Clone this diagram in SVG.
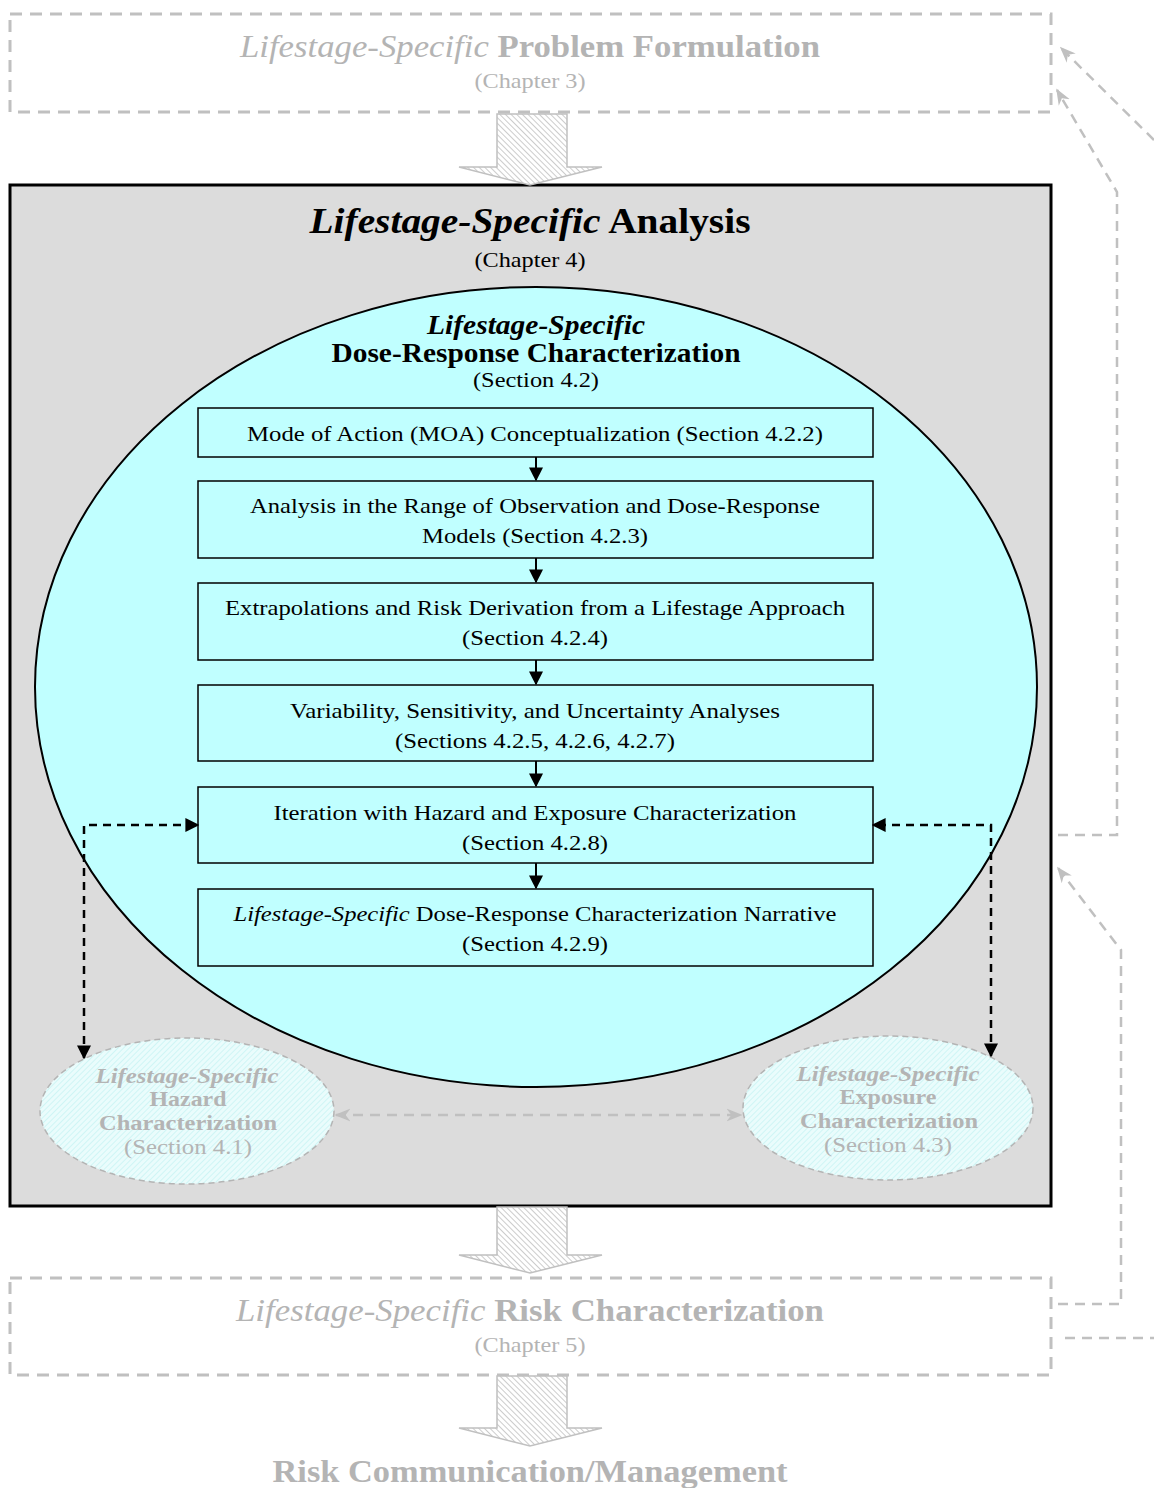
<svg xmlns="http://www.w3.org/2000/svg" width="1154" height="1488" viewBox="0 0 1154 1488">
<defs>
<style>
.t{font-family:"Liberation Serif","Times New Roman",serif;text-anchor:middle}
.g{fill:#b4b4b4}
.k{fill:#000}
.gd{fill:none;stroke:#c0c0c0;stroke-width:3;stroke-dasharray:12,8}
.gl{fill:none;stroke:#c0c0c0;stroke-width:2.5;stroke-dasharray:10,7}
.box{fill:none;stroke:#000;stroke-width:1.5}
.fl{stroke:#000;stroke-width:2;fill:none}
.bd{stroke:#000;stroke-width:2.5;fill:none;stroke-dasharray:8,6}
.big{fill:url(#hatch);stroke:#c0c0c0;stroke-width:1.5}
</style>
<pattern id="hatch" patternUnits="userSpaceOnUse" width="4" height="4" patternTransform="rotate(-45)">
<rect width="4" height="4" fill="#fff"/>
<line x1="0" y1="0" x2="0" y2="4" stroke="#aaaaaa" stroke-width="1.2"/>
</pattern>
<pattern id="chatch" patternUnits="userSpaceOnUse" width="4" height="4" patternTransform="rotate(45)">
<rect width="4" height="4" fill="#eafcfc"/>
<line x1="0" y1="0" x2="0" y2="4" stroke="#c0f2f2" stroke-width="1.3"/>
</pattern>
<marker id="akb" viewBox="0 0 10 10" refX="9" refY="5" markerWidth="14" markerHeight="14" orient="auto-start-reverse" markerUnits="userSpaceOnUse">
<path d="M0,0 L10,5 L0,10 z" fill="#000"/>
</marker>
<marker id="ag" viewBox="0 0 10 10" refX="9" refY="5" markerWidth="16" markerHeight="16" orient="auto-start-reverse" markerUnits="userSpaceOnUse">
<path d="M0,1 L10,5 L0,9 L3,5 z" fill="#c0c0c0"/>
</marker>
</defs>

<g id="problem-formulation">
<rect x="10" y="14" width="1041" height="98" class="gd"/>
<text class="t g" x="530" y="57" font-size="32" font-weight="bold" textLength="580" lengthAdjust="spacingAndGlyphs"><tspan font-style="italic" font-weight="normal">Lifestage-Specific</tspan> Problem Formulation</text>
<text class="t g" x="530" y="88" font-size="21" textLength="111" lengthAdjust="spacingAndGlyphs">(Chapter 3)</text>
</g>

<g id="analysis">
<rect x="10" y="185" width="1041" height="1021" fill="#dcdcdc" stroke="#000" stroke-width="3"/>
<text class="t k" x="530" y="233" font-size="36" font-weight="bold" textLength="441" lengthAdjust="spacingAndGlyphs"><tspan font-style="italic">Lifestage-Specific</tspan> Analysis</text>
<text class="t k" x="530" y="267" font-size="22" textLength="111" lengthAdjust="spacingAndGlyphs">(Chapter 4)</text>
</g>

<g id="dose-response">
<ellipse cx="536" cy="687" rx="501" ry="400" fill="#c0ffff" stroke="#000" stroke-width="2"/>
<text class="t k" x="536" y="334" font-size="28" font-weight="bold" font-style="italic" textLength="218" lengthAdjust="spacingAndGlyphs">Lifestage-Specific</text>
<text class="t k" x="536" y="362" font-size="28" font-weight="bold" textLength="409" lengthAdjust="spacingAndGlyphs">Dose-Response Characterization</text>
<text class="t k" x="536" y="387" font-size="22" textLength="126" lengthAdjust="spacingAndGlyphs">(Section 4.2)</text>
</g>

<g id="box-moa">
<rect x="198" y="408" width="675" height="49" class="box"/>
<text class="t k" x="535" y="441" font-size="22" textLength="576" lengthAdjust="spacingAndGlyphs">Mode of Action (MOA) Conceptualization (Section 4.2.2)</text>
</g>
<g id="box-range">
<rect x="198" y="481" width="675" height="77" class="box"/>
<text class="t k" x="535" y="513" font-size="22" textLength="570" lengthAdjust="spacingAndGlyphs">Analysis in the Range of Observation and Dose-Response</text>
<text class="t k" x="535" y="543" font-size="22" textLength="226" lengthAdjust="spacingAndGlyphs">Models (Section 4.2.3)</text>
</g>
<g id="box-extrap">
<rect x="198" y="583" width="675" height="77" class="box"/>
<text class="t k" x="535" y="615" font-size="22" textLength="620" lengthAdjust="spacingAndGlyphs">Extrapolations and Risk Derivation from a Lifestage Approach</text>
<text class="t k" x="535" y="645" font-size="22" textLength="146" lengthAdjust="spacingAndGlyphs">(Section 4.2.4)</text>
</g>
<g id="box-var">
<rect x="198" y="685" width="675" height="76" class="box"/>
<text class="t k" x="535" y="718" font-size="22" textLength="490" lengthAdjust="spacingAndGlyphs">Variability, Sensitivity, and Uncertainty Analyses</text>
<text class="t k" x="535" y="748" font-size="22" textLength="280" lengthAdjust="spacingAndGlyphs">(Sections 4.2.5, 4.2.6, 4.2.7)</text>
</g>
<g id="box-iter">
<rect x="198" y="787" width="675" height="76" class="box"/>
<text class="t k" x="535" y="820" font-size="22" textLength="523" lengthAdjust="spacingAndGlyphs">Iteration with Hazard and Exposure Characterization</text>
<text class="t k" x="535" y="850" font-size="22" textLength="146" lengthAdjust="spacingAndGlyphs">(Section 4.2.8)</text>
</g>
<g id="box-narr">
<rect x="198" y="889" width="675" height="77" class="box"/>
<text class="t k" x="535" y="921" font-size="22" textLength="603" lengthAdjust="spacingAndGlyphs"><tspan font-style="italic">Lifestage-Specific</tspan> Dose-Response Characterization Narrative</text>
<text class="t k" x="535" y="951" font-size="22" textLength="146" lengthAdjust="spacingAndGlyphs">(Section 4.2.9)</text>
</g>

<g id="hazard">
<ellipse cx="187" cy="1111" rx="147" ry="73" fill="url(#chatch)" stroke="#b4b4b4" stroke-width="1.5" stroke-dasharray="6,4"/>
<text class="t g" x="187" y="1083" font-size="22" font-weight="bold" font-style="italic" textLength="183" lengthAdjust="spacingAndGlyphs">Lifestage-Specific</text>
<text class="t g" x="188" y="1106" font-size="22" font-weight="bold" textLength="77" lengthAdjust="spacingAndGlyphs">Hazard</text>
<text class="t g" x="188" y="1130" font-size="22" font-weight="bold" textLength="178" lengthAdjust="spacingAndGlyphs">Characterization</text>
<text class="t g" x="188" y="1154" font-size="22" textLength="128" lengthAdjust="spacingAndGlyphs">(Section 4.1)</text>
</g>
<g id="exposure">
<ellipse cx="888" cy="1108" rx="145" ry="72" fill="url(#chatch)" stroke="#b4b4b4" stroke-width="1.5" stroke-dasharray="6,4"/>
<text class="t g" x="888" y="1081" font-size="22" font-weight="bold" font-style="italic" textLength="183" lengthAdjust="spacingAndGlyphs">Lifestage-Specific</text>
<text class="t g" x="888" y="1104" font-size="22" font-weight="bold" textLength="97" lengthAdjust="spacingAndGlyphs">Exposure</text>
<text class="t g" x="889" y="1128" font-size="22" font-weight="bold" textLength="178" lengthAdjust="spacingAndGlyphs">Characterization</text>
<text class="t g" x="888" y="1152" font-size="22" textLength="128" lengthAdjust="spacingAndGlyphs">(Section 4.3)</text>
</g>

<g id="risk-characterization">
<rect x="10" y="1278" width="1041" height="97" class="gd"/>
<text class="t g" x="530" y="1321" font-size="32" font-weight="bold" textLength="588" lengthAdjust="spacingAndGlyphs"><tspan font-style="italic" font-weight="normal">Lifestage-Specific</tspan> Risk Characterization</text>
<text class="t g" x="530" y="1352" font-size="21" textLength="111" lengthAdjust="spacingAndGlyphs">(Chapter 5)</text>
</g>

<g id="risk-communication">
<text class="t g" x="530" y="1482" font-size="32" font-weight="bold" textLength="515" lengthAdjust="spacingAndGlyphs">Risk Communication/Management</text>
</g>

<g id="connectors">
<path class="big" d="M497,114 H567 V167 H602 L530,185 L459,167 H497 Z"/>
<path class="big" d="M497,1207 H567 V1255 H602 L530,1273 L459,1255 H497 Z"/>
<path class="big" d="M497,1376 H567 V1428 H602 L530,1446 L459,1428 H497 Z"/>
<line class="fl" x1="536" y1="457" x2="536" y2="480" marker-end="url(#akb)"/>
<line class="fl" x1="536" y1="558" x2="536" y2="582" marker-end="url(#akb)"/>
<line class="fl" x1="536" y1="660" x2="536" y2="684" marker-end="url(#akb)"/>
<line class="fl" x1="536" y1="761" x2="536" y2="786" marker-end="url(#akb)"/>
<line class="fl" x1="536" y1="863" x2="536" y2="888" marker-end="url(#akb)"/>
<path class="bd" d="M84,1058 V825 H198" marker-start="url(#akb)" marker-end="url(#akb)"/>
<path class="bd" d="M991,1056 V825 H873" marker-start="url(#akb)" marker-end="url(#akb)"/>
<line class="gl" x1="336" y1="1115" x2="741" y2="1115" marker-start="url(#ag)" marker-end="url(#ag)"/>
<path class="gl" d="M1154,140 L1061,48" marker-end="url(#ag)"/>
<path class="gl" d="M1058,835 H1117 V192 L1057,90" marker-end="url(#ag)"/>
<path class="gl" d="M1058,1304 H1121 V950 L1058,868" marker-end="url(#ag)"/>
<path class="gl" d="M1065,1338 H1154"/>
</g>
</svg>
